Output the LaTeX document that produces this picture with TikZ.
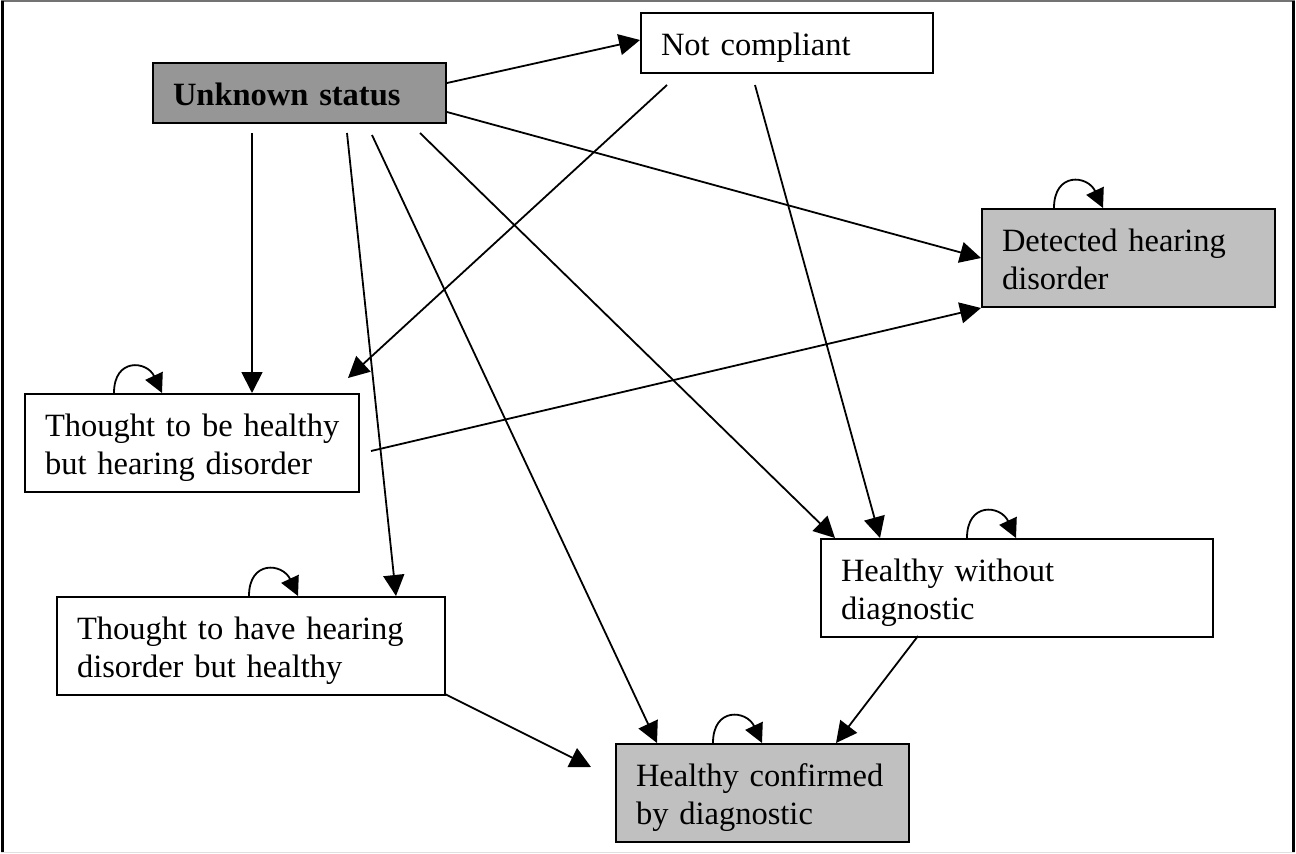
\documentclass[tikz,border=0pt]{standalone}
\usepackage{fontspec}
\setmainfont{Liberation Serif}
\usetikzlibrary{arrows.meta,calc}
\definecolor{darkfill}{RGB}{150,150,150}
\definecolor{lightfill}{RGB}{192,192,192}
\newcommand{\topstrut}{\rule{0pt}{34pt}}
\newcommand{\botstrut}{\rule[-10pt]{0pt}{10pt}}
\tikzset{
  statebox/.style={draw, line width=2pt, anchor=north west, align=left,
    inner xsep=20pt, inner ysep=8pt, font=\fontsize{32.5}{38}\selectfont},
  link/.style={line width=1.8pt, -{Triangle[length=21pt,width=21pt]}},
  selfloop/.style={line width=1.8pt, -{Triangle[length=19pt,width=19pt]},
    out=90, in=115, looseness=1.9},
}
\begin{document}
\begin{tikzpicture}[x=1pt,y=-1pt]
\useasboundingbox (0,0) rectangle (1296,854);
% frame
\draw[line width=1.2pt, black!55] (1,1) -- (1295,1);
\draw[line width=1pt, black!12] (1,852) -- (1295,852);
\draw[line width=2.6pt] (2.5,1) -- (2.5,852);
\draw[line width=2.2pt] (1293.5,1) -- (1293.5,852);

% nodes
\node[statebox, fill=darkfill, text width=253pt, font=\fontsize{32.5}{38}\selectfont\bfseries] (u) at (152,62)
  {\topstrut\mbox{Unknown status}\botstrut};
\node[statebox, text width=252pt] (nc) at (640,12)
  {\topstrut\mbox{Not compliant}\botstrut};
\node[statebox, fill=lightfill, text width=253pt] (det) at (981,208)
  {\topstrut\mbox{Detected hearing}\\ \mbox{disorder}\botstrut};
\node[statebox, text width=294pt] (tbh) at (24,393)
  {\topstrut\mbox{Thought to be healthy}\\ \mbox{but hearing disorder}\botstrut};
\node[statebox, text width=352pt] (hwd) at (820,538)
  {\topstrut\mbox{Healthy without}\\ \mbox{diagnostic}\botstrut};
\node[statebox, text width=348pt] (tth) at (56,596)
  {\topstrut\mbox{Thought to have hearing}\\ \mbox{disorder but healthy}\botstrut};
\node[statebox, fill=lightfill, text width=253pt] (hcd) at (615,743)
  {\topstrut\mbox{Healthy confirmed}\\ \mbox{by diagnostic}\botstrut};

% connectors
\draw[link] ($(u.north west)+(295,21)$) -- ($(nc.north west)+(0,28)$);
\draw[link] ($(u.north west)+(295,50)$) -- ($(det.north west)+(0,50)$);
\draw[link] ($(u.north west)+(100,71)$) -- ($(tbh.north west)+(228,0)$);
\draw[link] ($(u.north west)+(195,71)$) -- ($(tth.north west)+(340,0)$);
\draw[link] ($(u.north west)+(220,73)$) -- ($(hcd.north west)+(42,0)$);
\draw[link] ($(u.north west)+(268,71)$) -- ($(hwd.north west)+(15,0)$);
\draw[link] ($(nc.north west)+(27,73)$) -- ($(tbh.north west)+(324,-15)$);
\draw[link] ($(nc.north west)+(115,73)$) -- ($(hwd.north west)+(60,0)$);
\draw[link] ($(tbh.north west)+(347,58)$) -- ($(det.north west)+(0,100)$);
\draw[link] ($(tth.north west)+(389,98)$) -- ($(hcd.north west)+(-24,24)$);
\draw[link] ($(hwd.north west)+(98,98)$) -- ($(hcd.north west)+(221,0)$);

% self loops
\draw[selfloop] ($(det.north west)+(73,0)$) to ($(det.north west)+(122,0)$);
\draw[selfloop] ($(tbh.north west)+(90,0)$) to ($(tbh.north west)+(138,0)$);
\draw[selfloop] ($(hcd.north west)+(98,0)$) to ($(hcd.north west)+(147,0)$);
\draw[selfloop] ($(hwd.north west)+(147,0)$) to ($(hwd.north west)+(196,0)$);
\draw[selfloop] ($(tth.north west)+(193,0)$) to ($(tth.north west)+(242,0)$);
\end{tikzpicture}
\end{document}
